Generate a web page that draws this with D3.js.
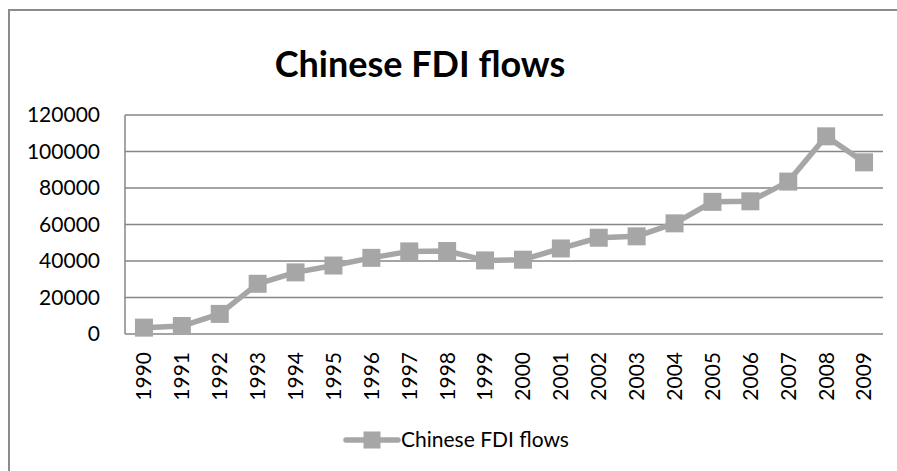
<!DOCTYPE html>
<html>
<head>
<meta charset="utf-8">
<script src="https://cdn.jsdelivr.net/npm/d3@7/dist/d3.min.js"></script>
<style>
body { margin: 0; background: #fff; }
text { font-family: Lato, "Open Sans", sans-serif; fill: #000; }
</style>
</head>
<body>
<svg id="chart" width="897" height="471"></svg>
<script>
/// data (US$ million)
var years = ["1990","1991","1992","1993","1994","1995","1996","1997","1998","1999",
             "2000","2001","2002","2003","2004","2005","2006","2007","2008","2009"];
var fdi = [3487, 4366, 11008, 27515, 33767, 37521, 41726, 45257, 45463, 40319,
           40715, 46878, 52743, 53505, 60630, 72406, 72715, 83521, 108312, 94065];
var yTicks = [0, 20000, 40000, 60000, 80000, 100000, 120000];
var seriesName = "Chinese FDI flows";
var title = "Chinese FDI flows";

var svg = d3.select("#chart");
var lineCol = "#a6a6a6", gridCol = "#868686";

var plot = {left: 125, right: 883, top: 115, bottom: 334};

/// outer chart border (runs off the picture on right/bottom)
svg.append("rect")
    .attr("x", 9).attr("y", 10)
    .attr("width", 900).attr("height", 470)
    .attr("fill", "none")
    .attr("stroke", "#8c8c8c")
    .attr("stroke-width", 2);

var x = d3.scaleBand().domain(years).range([plot.left, plot.right]);
var y = d3.scaleLinear().domain([0, 120000]).range([plot.bottom, plot.top]);
var cx = function(d){ return x(d) + x.bandwidth() / 2; };

/// gridlines
svg.append("g").selectAll("line")
    .data(yTicks.slice(1))
  .enter().append("line")
    .attr("x1", plot.left).attr("x2", plot.right)
    .attr("y1", function(d){ return y(d); })
    .attr("y2", function(d){ return y(d); })
    .attr("stroke", gridCol).attr("stroke-width", 1.5);

/// axes lines
svg.append("line")
    .attr("x1", plot.left).attr("x2", plot.left)
    .attr("y1", plot.top).attr("y2", plot.bottom)
    .attr("stroke", gridCol).attr("stroke-width", 1.5);
svg.append("line")
    .attr("x1", plot.left).attr("x2", plot.right)
    .attr("y1", plot.bottom).attr("y2", plot.bottom)
    .attr("stroke", gridCol).attr("stroke-width", 1.5);

/// y labels
svg.append("g").selectAll("text")
    .data(yTicks)
  .enter().append("text")
    .attr("x", 100)
    .attr("y", function(d){ return y(d); })
    .attr("dy", "0.35em")
    .attr("text-anchor", "end")
    .style("font-size", "21px")
    .text(function(d){ return d; });

/// x labels, rotated
svg.append("g").selectAll("text")
    .data(years)
  .enter().append("text")
    .attr("transform", function(d){ return "translate(" + cx(d) + ",352) rotate(-90)"; })
    .attr("dy", "0.35em")
    .attr("text-anchor", "end")
    .style("font-size", "21px")
    .text(function(d){ return d; });

/// series line + markers
var line = d3.line()
    .x(function(d, i){ return cx(years[i]); })
    .y(function(d){ return y(d); });

svg.append("path")
    .datum(fdi)
    .attr("d", line)
    .attr("fill", "none")
    .attr("stroke", lineCol)
    .attr("stroke-width", 5.5)
    .attr("stroke-linejoin", "round");

var m = 18;
svg.append("g").selectAll("rect")
    .data(fdi)
  .enter().append("rect")
    .attr("x", function(d, i){ return cx(years[i]) - m / 2; })
    .attr("y", function(d){ return y(d) - m / 2; })
    .attr("width", m).attr("height", m)
    .attr("fill", lineCol);

/// title
svg.append("text")
    .attr("x", 420).attr("y", 77)
    .attr("text-anchor", "middle")
    .style("font-size", "36px")
    .style("font-weight", "bold")
    .text(title);

/// legend
var lg = svg.append("g");
lg.append("line")
    .attr("x1", 346).attr("x2", 398)
    .attr("y1", 440).attr("y2", 440)
    .attr("stroke", lineCol).attr("stroke-width", 5.5)
    .attr("stroke-linecap", "round");
lg.append("rect")
    .attr("x", 372 - 8.5).attr("y", 440 - 8.5)
    .attr("width", 17).attr("height", 17)
    .attr("fill", lineCol);
lg.append("text")
    .attr("x", 401).attr("y", 440)
    .attr("dy", "0.35em")
    .style("font-size", "21px")
    .text(seriesName);
</script>
</body>
</html>
